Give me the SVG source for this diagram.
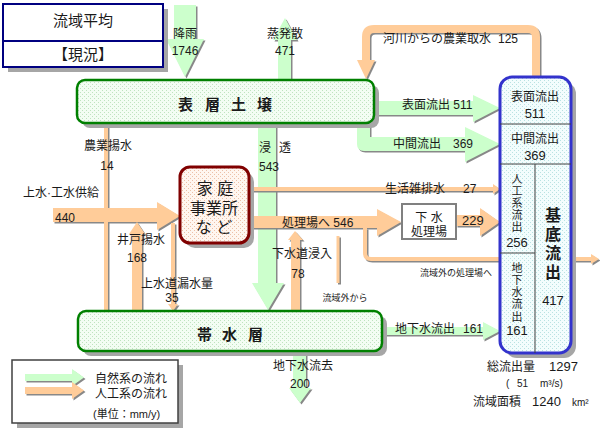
<svg xmlns="http://www.w3.org/2000/svg" xmlns:xlink="http://www.w3.org/1999/xlink" width="600" height="433" viewBox="0 0 600 433">
<style>
text{font-family:"Liberation Sans","Noto Sans CJK JP",sans-serif;font-size:12px;fill:#1a1a1a}
.m{text-anchor:middle}
.s9{font-size:9px}
.s10{font-size:10px}
.s11{font-size:11px}
.s13{font-size:13px}
.big{font-size:15px}
.bold{font-weight:bold}
.sh{fill:#888}
.shs{stroke:#888;fill:none}
.g{fill:#ccffcc}
.o{fill:#ffcc99}
.os{stroke:#ffcc99;fill:none}
.bsh{fill:#a6a6a6}
</style>
<defs>
<pattern id="pg" width="4" height="4" patternUnits="userSpaceOnUse"><rect width="4" height="4" fill="#f3fdf3"/><rect width="1" height="1" fill="#bfe3bf"/><rect x="2" y="2" width="1" height="1" fill="#bfe3bf"/></pattern>
<pattern id="pc" width="4" height="4" patternUnits="userSpaceOnUse"><rect width="4" height="4" fill="#f3fdfd"/><rect width="1" height="1" fill="#b9e2e2"/><rect x="2" y="2" width="1" height="1" fill="#b9e2e2"/></pattern>
<pattern id="pp" width="4" height="4" patternUnits="userSpaceOnUse"><rect width="4" height="4" fill="#fff6f0"/><rect width="1" height="1" fill="#ecc0a8"/><rect x="2" y="2" width="1" height="1" fill="#ecc0a8"/></pattern>
</defs>

<g id="connectors">
  <!-- green (natural) arrows -->
  <g transform="translate(1.5,1.5)" class="sh">
    <polygon points="174,5 196,5 196,39 204,39 185,77 166,39 174,39"/>
    <polygon points="278,80 278,40 273,40 285,18 297,40 291,40 291,80"/>
    <polygon points="258,123 276,123 276,283 284,283 268,310 252,283 258,283"/>
    <polygon points="374,101 473,101 473,95 500,108 473,122 473,115 374,115"/>
    <path d="M357,123 H370 V137 H465 V127 L500,144 L465,162 V151 H364 Q357,151 357,144 Z"/>
    <polygon points="382,327 483,327 483,322 500,331 483,340 483,335 382,335"/>
    <polygon points="293,351 306,351 306,388 311,388 300,403 289,388 293,388"/>
  </g>
  <g class="g">
    <polygon points="174,5 196,5 196,39 204,39 185,77 166,39 174,39"/>
    <polygon points="278,80 278,40 273,40 285,18 297,40 291,40 291,80"/>
    <polygon points="258,123 276,123 276,283 284,283 268,310 252,283 258,283"/>
    <polygon points="374,101 473,101 473,95 500,108 473,122 473,115 374,115"/>
    <path d="M357,123 H370 V137 H465 V127 L500,144 L465,162 V151 H364 Q357,151 357,144 Z"/>
    <polygon points="382,327 483,327 483,322 500,331 483,340 483,335 382,335"/>
    <polygon points="293,351 306,351 306,388 311,388 300,403 289,388 293,388"/>
  </g>

  <!-- orange (artificial) arrows -->
  <g transform="translate(1.5,1.5)">
    <path class="shs" stroke-width="8" d="M536,77 V37 Q536,29 528,29 H374 Q366,29 366,37 V61"/>
    <polygon class="sh" points="357,60 375,60 366,79"/>
    <polygon class="sh" points="53,208 157,208 157,202 180,216 157,230 157,222 53,222"/>
    <path class="shs" stroke-width="4" d="M106,311 V124"/>
    <polygon class="sh" points="132,311 132,234 129,234 137,222 145,234 142,234 142,311"/>
    <path class="shs" stroke-width="4" d="M173,223 V305"/>
    <polygon class="sh" points="168,304 178,304 173,311"/>
    <polygon class="sh" points="249,216 377,216 377,209 401,222 377,236 377,228 249,228"/>
    <path class="shs" stroke-width="4" d="M249,189 H494"/>
    <polygon class="sh" points="493,184 500,189 493,194"/>
    <path class="shs" stroke-width="4" d="M365,228 V253 Q365,259 371,259 H500"/>
    <polygon class="sh" points="456,215 480,215 480,208 500,222 480,236 480,226 456,226"/>
    <polygon class="sh" points="291,311 291,240 288,240 295,231 303,240 300,240 300,311"/>
    <path class="shs" stroke-width="3" d="M338,283 V236"/>
    <path class="shs" stroke-width="4" d="M571,259 H593"/>
    <polygon class="sh" points="591,254 599,259 591,264"/>
  </g>
  <path class="os" stroke-width="8" d="M536,77 V37 Q536,29 528,29 H374 Q366,29 366,37 V61"/>
  <polygon class="o" points="357,60 375,60 366,79"/>
  <polygon class="o" points="53,208 157,208 157,202 180,216 157,230 157,222 53,222"/>
  <path class="os" stroke-width="4" d="M106,311 V124"/>
  <polygon class="o" points="132,311 132,234 129,234 137,222 145,234 142,234 142,311"/>
  <path class="os" stroke-width="4" d="M173,223 V305"/>
  <polygon class="o" points="168,304 178,304 173,311"/>
  <polygon class="o" points="249,216 377,216 377,209 401,222 377,236 377,228 249,228"/>
  <path class="os" stroke-width="4" d="M249,189 H494"/>
  <polygon class="o" points="493,184 500,189 493,194"/>
  <path class="os" stroke-width="4" d="M365,228 V253 Q365,259 371,259 H500"/>
  <polygon class="o" points="456,215 480,215 480,208 500,222 480,236 480,226 456,226"/>
  <polygon class="o" points="291,311 291,240 288,240 295,231 303,240 300,240 300,311"/>
  <path class="os" stroke-width="3" d="M338,283 V236"/>
  <path class="os" stroke-width="4" d="M571,259 H593"/>
  <polygon class="o" points="591,254 599,259 591,264"/>

  <!-- connector labels -->
  <text class="m" x="185" y="38">降雨</text>
  <text class="m" x="185" y="55">1746</text>
  <text class="m" x="285" y="38">蒸発散</text>
  <text class="m" x="285" y="55">471</text>
  <text x="383" y="43">河川からの農業取水</text>
  <text x="498" y="43">125</text>
  <text x="402" y="109">表面流出 511</text>
  <text x="393" y="148">中間流出</text>
  <text x="453" y="148">369</text>
  <text x="259" y="152">浸</text>
  <text x="279" y="152">透</text>
  <text x="259" y="171">543</text>
  <text class="m" x="108" y="150">農業揚水</text>
  <text class="m" x="107" y="170">14</text>
  <text x="23" y="197">上水·工水供給</text>
  <text x="55" y="222">440</text>
  <text class="m" x="141" y="244">井戸揚水</text>
  <text class="m" x="137" y="262">168</text>
  <text x="141" y="288">上水道漏水量</text>
  <text class="m" x="172" y="302">35</text>
  <text class="m" x="302" y="258">下水道浸入</text>
  <text class="m" x="298" y="278">78</text>
  <text x="282" y="227">処理場へ 546</text>
  <text class="m s9" x="345" y="301">流域外から</text>
  <text x="385" y="193">生活雑排水</text>
  <text x="463" y="193">27</text>
  <text class="s13" x="462" y="225">229</text>
  <text class="m s9" x="456" y="276">流域外の処理場へ</text>
  <text x="395" y="333">地下水流出</text>
  <text x="463" y="333">161</text>
  <text class="m" x="303" y="370">地下水流去</text>
  <text class="m" x="300" y="388">200</text>
</g>

<g id="title">
  <rect class="bsh" x="8" y="9" width="160" height="63"/>
  <rect x="3" y="4" width="160" height="63" fill="#fff" stroke="#000080" stroke-width="2"/>
  <line x1="3" y1="41" x2="163" y2="41" stroke="#000080" stroke-width="2"/>
  <text class="m big" x="83" y="26">流域平均</text>
  <text class="m big" x="83" y="60">【現況】</text>
</g>

<g id="surface-soil">
  <rect class="bsh" x="82" y="85" width="297" height="43" rx="8"/>
  <rect x="77" y="80" width="297" height="43" rx="8" fill="url(#pg)" stroke="#008000" stroke-width="2.5"/>
  <text class="big bold" x="178 205 231 257" y="110">表層土壌</text>
</g>

<g id="aquifer">
  <rect class="bsh" x="83" y="316" width="304" height="40" rx="8"/>
  <rect x="78" y="311" width="304" height="40" rx="8" fill="url(#pg)" stroke="#008000" stroke-width="2.5"/>
  <text class="big bold" x="197 222 248" y="340">帯水層</text>
</g>

<g id="household">
  <rect class="bsh" x="185" y="172" width="69" height="76" rx="10"/>
  <rect x="180" y="167" width="69" height="76" rx="10" fill="url(#pp)" stroke="#800000" stroke-width="3"/>
  <text class="m" style="font-size:16px" x="215" y="194">家 庭</text>
  <text class="m" style="font-size:16px" x="214" y="214">事業所</text>
  <text class="m" style="font-size:16px" x="214" y="233">な ど</text>
</g>

<g id="sewage-plant">
  <rect x="402" y="204" width="54" height="35" fill="#fff" stroke="#808080" stroke-width="2"/>
  <text class="m" x="429" y="222">下 水</text>
  <text class="m" x="429" y="236">処理場</text>
</g>

<g id="outflow">
  <rect class="bsh" x="505" y="82" width="71" height="276" rx="12"/>
  <rect x="500" y="77" width="71" height="276" rx="12" fill="url(#pc)" stroke="#3333cc" stroke-width="3"/>
  <g stroke="#404040" stroke-width="1">
    <line x1="500" y1="124" x2="571" y2="124"/>
    <line x1="500" y1="164" x2="571" y2="164"/>
    <line x1="535" y1="164" x2="535" y2="353"/>
    <line x1="500" y1="253" x2="535" y2="253"/>
  </g>
  <text class="m" x="535" y="101">表面流出</text>
  <text class="m s13" x="535" y="118">511</text>
  <text class="m" x="535" y="143">中間流出</text>
  <text class="m s13" x="535" y="160">369</text>
  <text class="m s11" x="517" y="183">人</text>
  <text class="m s11" x="517" y="195">工</text>
  <text class="m s11" x="517" y="207">系</text>
  <text class="m s11" x="517" y="219">流</text>
  <text class="m s11" x="517" y="231">出</text>
  <text class="m s11" x="517" y="272">地</text>
  <text class="m s11" x="517" y="284">下</text>
  <text class="m s11" x="517" y="296">水</text>
  <text class="m s11" x="517" y="308">流</text>
  <text class="m s11" x="517" y="321">出</text>
  <text class="m s13" x="517" y="247">256</text>
  <text class="m s13" x="517" y="335">161</text>
  <text class="m bold" style="font-size:16px" x="553" y="221">基</text>
  <text class="m bold" style="font-size:16px" x="553" y="240">底</text>
  <text class="m bold" style="font-size:16px" x="553" y="259">流</text>
  <text class="m bold" style="font-size:16px" x="553" y="278">出</text>
  <text class="m s13" x="553" y="305">417</text>
</g>

<g id="summary">
  <text x="487" y="371">総流出量</text>
  <text class="s13" x="549" y="371">1297</text>
  <text class="s10" x="506" y="387">(</text>
  <text class="s10" x="517" y="387">51</text>
  <text class="s10" x="540" y="387">m³/s)</text>
  <text x="473" y="406">流域面積</text>
  <text class="s13" x="532" y="406">1240</text>
  <text class="s10" x="572" y="406">km²</text>
</g>

<g id="legend">
  <rect class="bsh" x="17" y="365" width="166" height="63"/>
  <rect x="12" y="360" width="166" height="63" fill="#fff" stroke="#404040" stroke-width="1.5"/>
  <polygon class="sh" transform="translate(1.5,1.5)" points="25,374 72,374 72,369 84,377.5 72,386 72,381 25,381"/>
  <polygon class="g" points="25,374 72,374 72,369 84,377.5 72,386 72,381 25,381"/>
  <polygon class="sh" transform="translate(1.5,1.5)" points="25,387 72,387 72,382 84,390.5 72,399 72,394 25,394"/>
  <polygon class="o" points="25,387 72,387 72,382 84,390.5 72,399 72,394 25,394"/>
  <text x="95" y="383">自然系の流れ</text>
  <text x="95" y="398">人工系の流れ</text>
  <text class="s11" x="93" y="418">(単位：mm/y)</text>
</g>
</svg>
